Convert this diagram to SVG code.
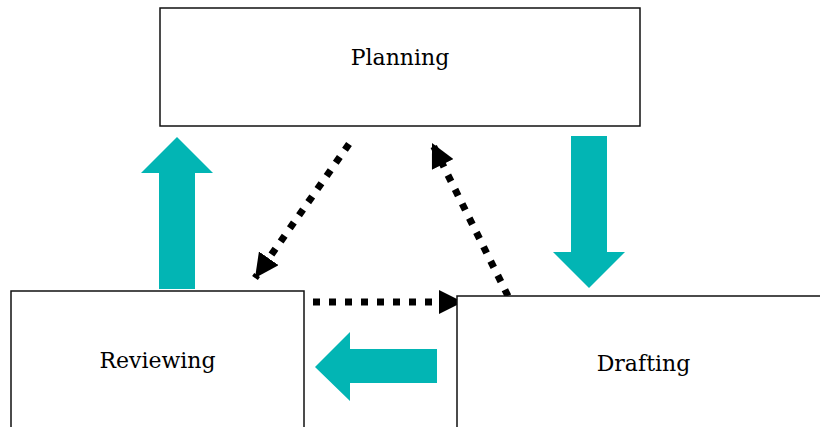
<svg xmlns="http://www.w3.org/2000/svg" width="820" height="427" viewBox="0 0 820 427">
<style>
.box{fill:#fff;stroke:#111;stroke-width:1.5}
.lbl{font-family:"DejaVu Serif","Liberation Serif",serif;font-size:22px;fill:#000;text-anchor:middle}
.dot{fill:none;stroke:#000;stroke-width:7;stroke-dasharray:7 9;marker-end:url(#ah)}
.teal{fill:#02B5B4}
</style>
<defs>
<marker id="ah" markerUnits="userSpaceOnUse" markerWidth="24" markerHeight="24" refX="22" refY="11" orient="auto" viewBox="0 0 22 22">
<path d="M0,0 L22,11 L0,22 z" fill="#000"/>
</marker>
</defs>
<g id="connectors">
<polygon class="teal" points="177,137 213,173 195,173 195,289 159,289 159,173 141,173"/>
<polygon class="teal" points="571,136 607,136 607,252 625,252 589,288 553,252 571,252"/>
<polygon class="teal" points="315,367 350,332 350,349 437,349 437,383 350,383 350,401"/>
<path class="dot" d="M349,144 L255,278"/>
<path class="dot" d="M508,296 L432,143"/>
<path class="dot" d="M313,302 L463,302"/>
</g>
<g id="planning">
<rect class="box" x="160" y="8" width="480" height="118"/>
<text class="lbl" x="400" y="65">Planning</text>
</g>
<g id="reviewing">
<rect class="box" x="11" y="291" width="293" height="150"/>
<text class="lbl" x="157.5" y="368">Reviewing</text>
</g>
<g id="drafting">
<rect class="box" x="457" y="296" width="380" height="150"/>
<text class="lbl" x="643.5" y="371">Drafting</text>
</g>
</svg>
